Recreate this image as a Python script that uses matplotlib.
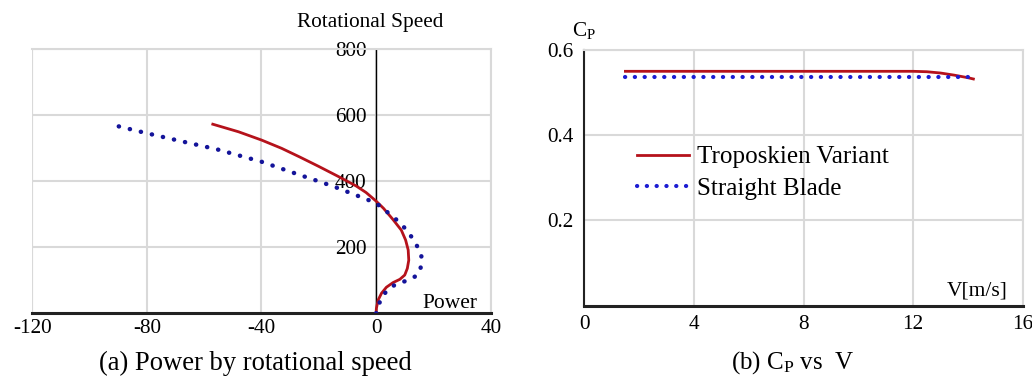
import matplotlib
matplotlib.use("Agg")
import matplotlib.pyplot as plt

plt.rcParams["font.family"] = ["Liberation Serif", "DejaVu Serif"]
plt.rcParams["mathtext.fontset"] = "custom"
plt.rcParams["mathtext.rm"] = "Liberation Serif"
plt.rcParams["mathtext.it"] = "Liberation Serif:italic"

# ---- (a) power versus rotational speed ----
tropo_power = [0, 0.1, 0.7, 1.9, 3.6, 5.9, 8.3, 10.0, 10.9, 11.4, 11.2, 10.3,
               8.8, 6.0, 2.6, 0, -3.5, -7.0, -13.5, -20.0, -26.5, -33.0, -40.0,
               -48.0, -57.0]
tropo_speed = [0, 15, 40, 61, 79, 93, 103, 116, 136, 161, 192, 222, 252, 283,
               318, 340, 366, 386, 416, 445, 473, 500, 525, 550, 573]
straight_power = [0, 0.7, 1.3, 2.4, 4.4, 6.5, 8.8, 11.2, 13.5, 15.3, 15.8, 15.8,
                  14.7, 13.5, 10.9, 8.2, 6.0, 2.0, 0, -3.2, -7.9, -13.2, -19.0,
                  -26.6, -39.9, -55.6, -67.3, -80.7, -91.5]
straight_speed = [0, 15, 35, 55, 73, 86, 93, 101, 111, 126, 151, 174, 197, 217,
                  250, 275, 292, 320, 334, 345, 361, 379, 397, 419, 459, 497,
                  520, 547, 570]
power_ticks = [-120, -80, -40, 0, 40]
speed_ticks = [200, 400, 600, 800]

# ---- (b) power coefficient versus wind speed ----
wind_tropo = [1.5, 2, 3, 4, 5, 6, 7, 8, 9, 10, 11, 12, 12.5, 13, 13.5, 14, 14.2]
cp_tropo = [0.55, 0.55, 0.55, 0.55, 0.55, 0.55, 0.55, 0.55, 0.55, 0.55, 0.55,
            0.55, 0.549, 0.546, 0.541, 0.535, 0.532]
wind_straight = [1.5, 2, 3, 4, 5, 6, 7, 8, 9, 10, 11, 12, 13, 14]
cp_straight = [0.537] * 14
wind_ticks = [0, 4, 8, 12, 16]
cp_ticks = [0.2, 0.4, 0.6]

RED = "#b5121b"
NAVY = "#14149a"
BLUE = "#1c1cd2"
GRID = "#d9d9d9"
TICK_FS = 15.3

W, H = 1032, 378
fig = plt.figure(figsize=(W / 100, H / 100), dpi=100)


def px_axes(x0, y0, x1, y1):
    return fig.add_axes([x0 / W, 1 - y1 / H, (x1 - x0) / W, (y1 - y0) / H])


# panel (a)
ax = px_axes(32.3, 49.3, 490.7, 313.3)
ax.set_xlim(-120, 40)
ax.set_ylim(0, 800)
ax.plot(tropo_power, tropo_speed, color=RED, lw=2.0, zorder=3,
        solid_joinstyle="round")
ax.plot(straight_power, straight_speed, color=NAVY, lw=3.2,
        linestyle=(0, (0.05, 2.5)), dash_capstyle="round", zorder=3)
ax.set_xticks(power_ticks)
ax.set_xticklabels([str(v) for v in power_ticks])
ax.set_yticks(speed_ticks)
ax.set_yticklabels([str(v) for v in speed_ticks])
ax.grid(True, color=GRID, lw=1.5, zorder=0)
ax.set_axisbelow(True)
ax.spines["left"].set_position(("data", 0))
ax.spines["left"].set_color("black")
ax.spines["left"].set_linewidth(1.0)
ax.spines["bottom"].set_color("#222222")
ax.spines["bottom"].set_linewidth(2.2)
for s in ("top", "right"):
    ax.spines[s].set_color(GRID)
    ax.spines[s].set_linewidth(1.5)
# light outline on the far left edge
ax.axvline(-120, color=GRID, lw=1.5, zorder=0)
ax.tick_params(axis="both", length=0, labelsize=TICK_FS)
ax.tick_params(axis="x", pad=4)
ax.tick_params(axis="y", pad=7)
ax.text(0.738, 1.065, "Rotational Speed", transform=ax.transAxes,
        ha="center", va="bottom", fontsize=15.3)
ax.text(0.970, 0.02, "Power", transform=ax.transAxes, ha="right",
        va="baseline", fontsize=15.5)
fig.text(255 / W, 1 - 363 / H, "(a) Power by rotational speed", ha="center",
         va="center", fontsize=19.2)

# panel (b)
bx = px_axes(584.3, 50.0, 1022.7, 305.7)
bx.set_xlim(0, 16)
bx.set_ylim(0, 0.6)
bx.plot(wind_tropo, cp_tropo, color=RED, lw=2.0, zorder=3,
        label="Troposkien Variant")
bx.plot(wind_straight, cp_straight, color=BLUE, lw=3.0,
        linestyle=(0, (0.05, 2.3)), dash_capstyle="round", zorder=3,
        label="Straight Blade")
bx.set_xticks(wind_ticks)
bx.set_xticklabels([str(v) for v in wind_ticks])
bx.set_yticks(cp_ticks)
bx.set_yticklabels([f"{v:.1f}" for v in cp_ticks])
bx.grid(True, color=GRID, lw=1.5, zorder=0)
bx.set_axisbelow(True)
bx.spines["left"].set_color("#222222")
bx.spines["left"].set_linewidth(1.5)
bx.spines["bottom"].set_color("#222222")
bx.spines["bottom"].set_linewidth(2.2)
for s in ("top", "right"):
    bx.spines[s].set_color(GRID)
    bx.spines[s].set_linewidth(1.5)
bx.tick_params(axis="both", length=0, labelsize=TICK_FS)
bx.tick_params(axis="x", pad=7)
bx.tick_params(axis="y", pad=8)
bx.legend(loc="upper left", bbox_to_anchor=(0.1195, 0.625), frameon=False,
          fontsize=18.1, handlelength=2.07, handletextpad=0.33,
          labelspacing=0.35, borderpad=0, borderaxespad=0)
bx.text(0.0, 1.035, r"C$_\mathregular{P}$", transform=bx.transAxes,
        ha="center", va="bottom", fontsize=TICK_FS)
bx.text(0.9665, 0.038, "V[m/s]", transform=bx.transAxes, ha="right",
        va="baseline", fontsize=15.5)
fig.text(793 / W, 1 - 363 / H, r"(b) C$_\mathregular{P}$ vs  V", ha="center",
         va="center", fontsize=18)

fig.savefig("out.png", dpi=100)
